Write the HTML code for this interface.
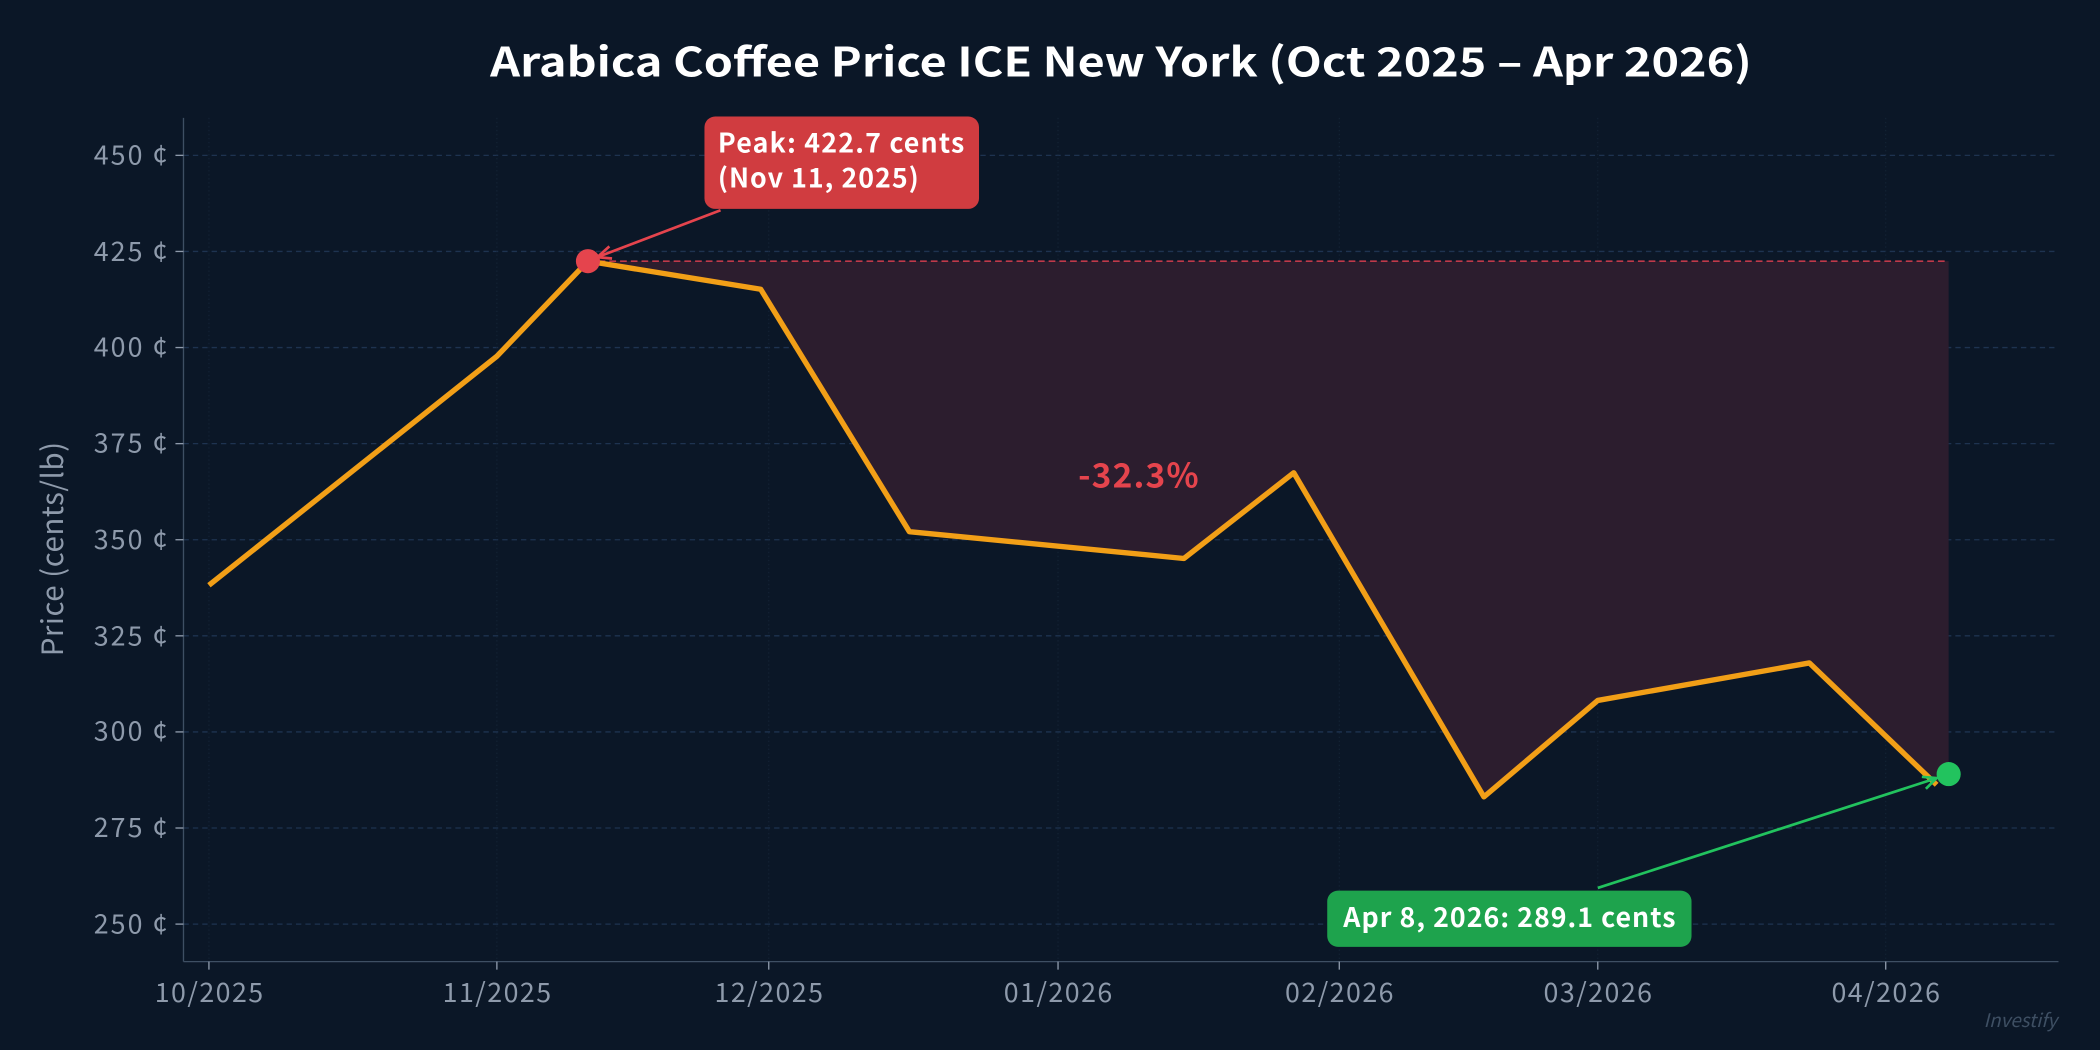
<!DOCTYPE html>
<html><head><meta charset="utf-8"><style>
html,body{margin:0;padding:0;background:#0b1727;}
svg{display:block;font-family:"Noto Sans CJK JP","DejaVu Sans",sans-serif;}
</style></head><body>
<svg width="2100" height="1050" viewBox="0 0 1568 784" xmlns="http://www.w3.org/2000/svg">
<rect width="1568" height="784" fill="#0b1727"/>
<text x="837" y="57" text-anchor="middle" fill="#ffffff" font-size="30" font-weight="bold" textLength="942" lengthAdjust="spacingAndGlyphs">Arabica Coffee Price ICE New York (Oct 2025 – Apr 2026)</text>
<g stroke="#1e3350" stroke-width="1" stroke-dasharray="4,3">
<line x1="137" x2="1537" y1="116" y2="116"/><line x1="137" x2="1537" y1="187.75" y2="187.75"/>
<line x1="137" x2="1537" y1="259.5" y2="259.5"/><line x1="137" x2="1537" y1="331.25" y2="331.25"/>
<line x1="137" x2="1537" y1="403" y2="403"/><line x1="137" x2="1537" y1="474.75" y2="474.75"/>
<line x1="137" x2="1537" y1="546.5" y2="546.5"/><line x1="137" x2="1537" y1="618.25" y2="618.25"/>
<line x1="137" x2="1537" y1="690" y2="690"/>
</g>
<g stroke="#152436" stroke-width="0.8" stroke-dasharray="1,2">
<line x1="156" x2="156" y1="88" y2="718"/><line x1="371" x2="371" y1="88" y2="718"/><line x1="574" x2="574" y1="88" y2="718"/><line x1="790" x2="790" y1="88" y2="718"/><line x1="1000" x2="1000" y1="88" y2="718"/><line x1="1193" x2="1193" y1="88" y2="718"/><line x1="1408" x2="1408" y1="88" y2="718"/>
</g>
<line x1="137" y1="88" x2="137" y2="718" stroke="#3e4f63"/>
<line x1="137" y1="718" x2="1537" y2="718" stroke="#3e4f63"/>
<g fill="#8e9aab" font-size="20" text-anchor="end">
<text x="125" y="123" textLength="55">450 ¢</text><text x="125" y="195" textLength="55">425 ¢</text><text x="125" y="266" textLength="55">400 ¢</text><text x="125" y="338" textLength="55">375 ¢</text><text x="125" y="410" textLength="55">350 ¢</text><text x="125" y="482" textLength="55">325 ¢</text><text x="125" y="553" textLength="55">300 ¢</text><text x="125" y="625" textLength="55">275 ¢</text><text x="125" y="697" textLength="55">250 ¢</text>
</g>
<g stroke="#8e9aab"><line x1="131" x2="137" y1="116" y2="116"/><line x1="131" x2="137" y1="187.75" y2="187.75"/><line x1="131" x2="137" y1="259.5" y2="259.5"/><line x1="131" x2="137" y1="331.25" y2="331.25"/><line x1="131" x2="137" y1="403" y2="403"/><line x1="131" x2="137" y1="474.75" y2="474.75"/><line x1="131" x2="137" y1="546.5" y2="546.5"/><line x1="131" x2="137" y1="618.25" y2="618.25"/><line x1="131" x2="137" y1="690" y2="690"/></g>
<g fill="#8e9aab" font-size="20" text-anchor="middle">
<text x="156" y="748" textLength="81">10/2025</text><text x="371" y="748" textLength="81">11/2025</text><text x="574" y="748" textLength="81">12/2025</text><text x="790" y="748" textLength="81">01/2026</text><text x="1000" y="748" textLength="81">02/2026</text><text x="1193" y="748" textLength="81">03/2026</text><text x="1408" y="748" textLength="81">04/2026</text>
</g>
<g stroke="#8e9aab"><line x1="156" x2="156" y1="718" y2="724"/><line x1="371" x2="371" y1="718" y2="724"/><line x1="574" x2="574" y1="718" y2="724"/><line x1="790" x2="790" y1="718" y2="724"/><line x1="1000" x2="1000" y1="718" y2="724"/><line x1="1193" x2="1193" y1="718" y2="724"/><line x1="1408" x2="1408" y1="718" y2="724"/></g>
<text transform="translate(47,410) rotate(-90)" text-anchor="middle" fill="#8e9aab" font-size="22" textLength="160">Price (cents/lb)</text>
<polygon points="439,195 568,216 679,397 884,417 966,353 1108,595 1193,523 1351,495 1446,586 1455,578 1455,195" fill="#2c1d2e"/>
<line x1="439" y1="195" x2="1455" y2="195" stroke="#c0394a" stroke-width="1.2" stroke-dasharray="5,3"/>
<polyline points="156,437 371,266 439,195 568,216 679,397 884,417 966,353 1108,595 1193,523 1351,495 1446,586" fill="none" stroke="#f29f17" stroke-width="4" stroke-linejoin="round"/>
<circle cx="439" cy="195" r="9" fill="#e5444d"/>
<circle cx="1455" cy="578" r="9" fill="#22c35e"/>
<line x1="538" y1="157" x2="446" y2="192" stroke="#e5444d" stroke-width="2"/>
<polyline points="455,184 446,192 457,193" fill="none" stroke="#e5444d" stroke-width="2"/>
<line x1="1193" y1="663" x2="1446" y2="581" stroke="#22c35e" stroke-width="2"/>
<polyline points="1435,580 1446,581 1438,589" fill="none" stroke="#22c35e" stroke-width="2"/>
<rect x="526" y="87" width="205" height="69" rx="8" fill="#d03c40"/>
<text x="536" y="114" fill="#fff" font-size="20" font-weight="bold" textLength="184">Peak: 422.7 cents</text>
<text x="536" y="140" fill="#fff" font-size="20" font-weight="bold" textLength="150">(Nov 11, 2025)</text>
<rect x="991" y="665" width="272" height="42" rx="8" fill="#1ea34d"/>
<text x="1127" y="692" text-anchor="middle" fill="#fff" font-size="20" font-weight="bold" textLength="248">Apr 8, 2026: 289.1 cents</text>
<text x="850" y="364" text-anchor="middle" fill="#e5444d" font-size="25" font-weight="bold" textLength="90">-32.3%</text>
<text x="1536" y="767" text-anchor="end" fill="#3e4f63" font-size="14" font-style="italic">Investify</text>
</svg>
</body></html>
